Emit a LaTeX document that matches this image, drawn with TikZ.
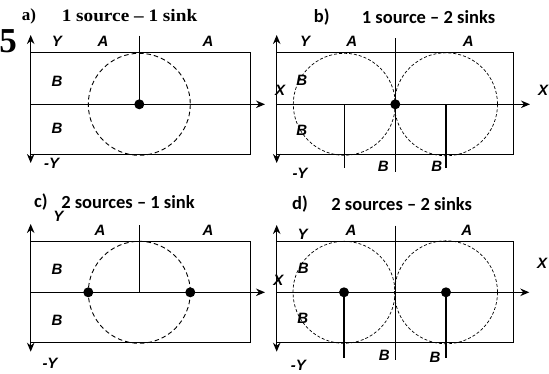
\documentclass[tikz,border=0pt]{standalone}
\usepackage{fontspec}
\setmainfont{Liberation Serif}
\newfontfamily\lblfont{Liberation Sans}
\newfontfamily\capfont{Carlito}
\newfontfamily\serifwide[FakeStretch=1.1]{Liberation Serif}
\usetikzlibrary{arrows.meta}

\begin{document}
\begin{tikzpicture}[
  x=1pt, y=-1pt,
  box/.style={line width=1.4pt},
  axis/.style={line width=1.1pt, -{Stealth[length=9pt,width=7.5pt]}},
  yaxis/.style={line width=1.1pt, {Stealth[length=9pt,width=7.5pt]}-{Stealth[length=9pt,width=7.5pt]}},
  zone/.style={line width=1.1pt},
  flow/.style={line width=0.9pt, dash pattern=on 4.5pt off 3pt},
  flowfine/.style={line width=0.7pt, dash pattern=on 3pt off 2pt},
  dot/.style={circle, fill=black, inner sep=0pt, minimum size=10pt},
  lbl/.style={inner sep=0pt, font=\lblfont\bfseries\itshape\fontsize{15}{15}\selectfont},
  ttl/.style={inner sep=0pt, font=\capfont\bfseries\fontsize{18.5}{18.5}\selectfont},
  ttlserif/.style={inner sep=0pt, font=\bfseries\fontsize{17}{17}\selectfont},
]
  \useasboundingbox (0,0) rectangle (549,373);

  % a) 1 source - 1 sink
  \node[ttlserif] (a-no) at (29,16) {a)};
  \node[ttlserif, font=\serifwide\bfseries\fontsize{17.5}{17.5}\selectfont] (a-title) at (129.5,16) {1 source – 1 sink};
  \node[inner sep=0pt, anchor=east, font=\bfseries\fontsize{35}{35}\selectfont] (fig) at (17,41.5) {5};
  \draw[box] (30.7,52.7) rectangle (250.7,154.3);
  \coordinate (a-yt) at (30.7,35);
  \coordinate (a-yb) at (30.7,163);
  \coordinate (a-x0) at (30.7,104.3);
  \coordinate (a-x1) at (265,104.3);
  \coordinate (a-top) at (139.3,35.7);
  \draw[yaxis] (a-yb) -- (a-yt);
  \draw[axis] (a-x0) -- (a-x1);
  \draw[flow] (139.3,104.3) circle[radius=51];
  \node[dot] (a-sink) at (139.3,104.3) {};
  \draw[zone] (a-top) -- (a-sink.center);
  \node[lbl] (a-y)  at (57,41)    {Y};
  \node[lbl] (a-a1) at (103,41)   {A};
  \node[lbl] (a-a2) at (208,41)   {A};
  \node[lbl] (a-b1) at (57,81)    {B};
  \node[lbl] (a-b2) at (57,128)   {B};
  \node[lbl] (a-my) at (51.7,163.3) {-Y};

  % b) 1 source - 2 sinks
  \node[ttl] (b-no) at (321.8,17.5) {b)};
  \node[ttl] (b-title) at (428.5,17.5) {1 source – 2 sinks};
  \draw[box] (276.7,52.7) rectangle (513.3,154.3);
  \coordinate (b-yt) at (276.7,35);
  \coordinate (b-yb) at (276.7,163);
  \coordinate (b-x0) at (276.7,104.3);
  \coordinate (b-x1) at (530,104.3);
  \coordinate (b-mt) at (395.3,38);
  \coordinate (b-mb) at (395.3,171.7);
  \coordinate (b-l0) at (344.3,104.3);
  \coordinate (b-l1) at (344.3,168);
  \coordinate (b-r0) at (446,104.3);
  \coordinate (b-r1) at (446,168);
  \draw[yaxis] (b-yb) -- (b-yt);
  \draw[axis] (b-x0) -- (b-x1);
  \draw[zone] (b-mt) -- (b-mb);
  \draw[zone] (b-l0) -- (b-l1);
  \draw[zone] (b-r0) -- (b-r1);
  \draw[flowfine] (344.3,104.3) circle[radius=51];
  \draw[flowfine] (446,104.3) circle[radius=51.5];
  \node[dot] (b-src) at (395.3,104.3) {};
  \node[lbl] (b-y)  at (305,41)    {Y};
  \node[lbl] (b-a1) at (351.7,41)  {A};
  \node[lbl] (b-a2) at (468.3,41)  {A};
  \node[lbl] (b-b1) at (301.7,80)  {B};
  \node[lbl] (b-xl) at (280,90.5)  {X};
  \node[lbl] (b-xr) at (543,90.5)  {X};
  \node[lbl] (b-b2) at (301.7,130.7) {B};
  \node[lbl] (b-my) at (300,173.3) {-Y};
  \node[lbl] (b-b3) at (383.3,166.7) {B};
  \node[lbl] (b-b4) at (436.7,166.7) {B};

  % c) 2 sources - 1 sink
  \node[ttl] (c-no) at (40.8,202.3) {c)};
  \node[ttl] (c-title) at (128,202.3) {2 sources – 1 sink};
  \draw[box] (30.7,241.7) rectangle (250.7,342.3);
  \coordinate (c-yt) at (30.7,224);
  \coordinate (c-yb) at (30.7,351.7);
  \coordinate (c-x0) at (30.7,292.3);
  \coordinate (c-x1) at (265,292.3);
  \coordinate (c-top) at (139.3,225);
  \coordinate (c-mid) at (139.3,292.3);
  \draw[yaxis] (c-yb) -- (c-yt);
  \draw[axis] (c-x0) -- (c-x1);
  \draw[zone] (c-top) -- (c-mid);
  \draw[flow] (139.3,292.3) circle[radius=51];
  \node[dot] (c-src1) at (88.3,292.3) {};
  \node[dot] (c-src2) at (190.3,292.3) {};
  \node[lbl] (c-y)  at (58.3,216.7) {Y};
  \node[lbl] (c-a1) at (100,230)    {A};
  \node[lbl] (c-a2) at (208,230)    {A};
  \node[lbl] (c-b1) at (57,269)     {B};
  \node[lbl] (c-b2) at (57,320)     {B};
  \node[lbl] (c-my) at (50,363)     {-Y};

  % d) 2 sources - 2 sinks
  \node[ttl] (d-no) at (300,204) {d)};
  \node[ttl] (d-title) at (401.7,204) {2 sources – 2 sinks};
  \draw[box] (276.7,241.7) rectangle (513.3,342.3);
  \coordinate (d-yt) at (276.7,225);
  \coordinate (d-yb) at (276.7,351.7);
  \coordinate (d-x0) at (276.7,292.3);
  \coordinate (d-x1) at (529.3,292.3);
  \coordinate (d-mt) at (395.3,225.7);
  \coordinate (d-mb) at (395.3,360);
  \coordinate (d-l1) at (344,358.3);
  \coordinate (d-r1) at (446,358.3);
  \draw[yaxis] (d-yb) -- (d-yt);
  \draw[axis] (d-x0) -- (d-x1);
  \draw[zone] (d-mt) -- (d-mb);
  \draw[flowfine] (344,292.3) circle[radius=51];
  \draw[flowfine] (446,292.3) circle[radius=51.5];
  \node[dot] (d-src1) at (344,292.3) {};
  \node[dot] (d-src2) at (446,292.3) {};
  \draw[zone] (d-src1.center) -- (d-l1);
  \draw[zone] (d-src2.center) -- (d-r1);
  \node[lbl] (d-y)  at (302.7,234)   {Y};
  \node[lbl] (d-a1) at (351,230)     {A};
  \node[lbl] (d-a2) at (466.7,230)   {A};
  \node[lbl] (d-b1) at (303.3,268.3) {B};
  \node[lbl] (d-xl) at (278.3,280)   {X};
  \node[lbl] (d-xr) at (542,263.3)   {X};
  \node[lbl] (d-b2) at (302.7,318.3) {B};
  \node[lbl] (d-my) at (298.3,365)   {-Y};
  \node[lbl] (d-b3) at (384.3,355)   {B};
  \node[lbl] (d-b4) at (435,357.7)   {B};
\end{tikzpicture}
\end{document}
